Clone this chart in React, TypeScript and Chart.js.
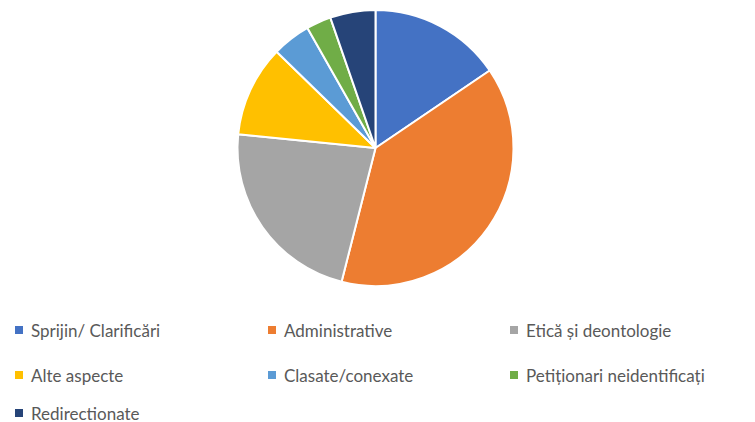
import React, { useEffect, useRef } from "react";
import { Chart, registerables } from "chart.js";

Chart.register(...registerables);

const categories = [
  "Sprijin/ Clarificări",
  "Administrative",
  "Etică și deontologie",
  "Alte aspecte",
  "Clasate/conexate",
  "Petiționari neidentificați",
  "Redirectionate",
];
const values = [15.5, 38.4, 22.6, 10.7, 4.5, 2.9, 5.3];
const colors = ["#4472C4", "#ED7D31", "#A5A5A5", "#FFC000", "#5B9BD5", "#70AD47", "#264478"];

const FONT = "Lato, 'Open Sans', sans-serif";

export default function App() {
  const ref = useRef<HTMLCanvasElement | null>(null);

  useEffect(() => {
    if (!ref.current) return;
    const chart = new Chart(ref.current, {
      type: "pie",
      data: {
        labels: categories,
        datasets: [
          {
            data: values,
            backgroundColor: colors,
            borderColor: "#ffffff",
            borderWidth: 2,
          },
        ],
      },
      options: {
        animation: false,
        responsive: false,
        maintainAspectRatio: false,
        layout: { padding: { top: 9, bottom: 9, left: 0, right: 0 } },
        plugins: {
          legend: { display: false },
          tooltip: { enabled: false },
        },
      },
    });
    return () => chart.destroy();
  }, []);

  const cols = [15, 268, 510];
  const rows = [330, 375, 413];

  return (
    <div
      style={{
        position: "fixed",
        left: 0,
        top: 0,
        width: 755,
        height: 422,
        background: "#ffffff",
        overflow: "hidden",
      }}
    >
      <canvas
        ref={ref}
        width={751}
        height={296}
        style={{ position: "absolute", left: 0, top: 0, width: 751, height: 296 }}
      />
      {categories.map((c, i) => {
        const col = i % 3;
        const row = Math.floor(i / 3);
        return (
          <div
            key={c}
            style={{
              position: "absolute",
              left: cols[col],
              top: rows[row] - 11,
              height: 22,
              display: "flex",
              alignItems: "center",
              fontFamily: FONT,
              fontSize: 17,
              color: "#595959",
              whiteSpace: "nowrap",
            }}
          >
            <span
              style={{
                display: "inline-block",
                width: 8,
                height: 8,
                background: colors[i],
                marginRight: 8,
              }}
            />
            <span>{c}</span>
          </div>
        );
      })}
    </div>
  );
}
